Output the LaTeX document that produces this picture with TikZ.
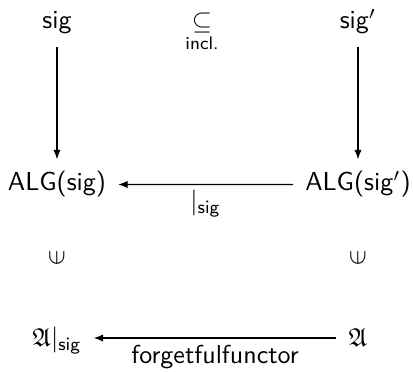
\documentclass[tikz,border=0pt]{standalone}
\usepackage{amssymb}
\usetikzlibrary{arrows.meta}
\begin{document}
\begin{tikzpicture}[x=0.385pt,y=-0.385pt,
  every node/.style={font=\sffamily, inner sep=4.5pt},
  obj/.style={anchor=base},
  arr/.style={-{Latex[length=3.6pt,width=2.8pt]}, line width=0.45pt},
  small/.style={font=\sffamily\scriptsize, inner sep=1pt},
  elem/.style={inner sep=0pt}]
\useasboundingbox (0,0) rectangle (413,372);
% objects
\node[obj] (s)  at (57,29)   {sig};
\node[obj] (sp) at (358,29)  {sig$'$};
\node[obj] (A)  at (57,191)  {ALG(sig)};
\node[obj] (Ap) at (358,191) {ALG(sig$'$)};
\node[obj] (a)  at (57,347)  {$\mathfrak{A}|_{\mathsf{sig}}$};
\node[obj] (ap) at (358,347) {$\mathfrak{A}$};
% inclusion
\node[elem] (sub) at (202,23) {$\subseteq$};
\node[small, anchor=north] (incl) at (sub.south) {incl.};
% element-of symbols
\node[elem] (e1) at (57,258)  {\rotatebox[origin=c]{90}{$\in$}};
\node[elem] (e2) at (358,258) {\rotatebox[origin=c]{90}{$\in$}};
% arrows
\draw[arr] (s) -- (A);
\draw[arr] (sp) -- (Ap);
\draw[arr] (Ap) -- node[below, inner sep=2pt] (r) {$|_{\mathsf{sig}}$} (A);
\draw[arr] (ap.west) -- node[below, inner sep=2.5pt] (f) {forgetfulfunctor} (a.east |- ap.west);
\end{tikzpicture}
\end{document}
